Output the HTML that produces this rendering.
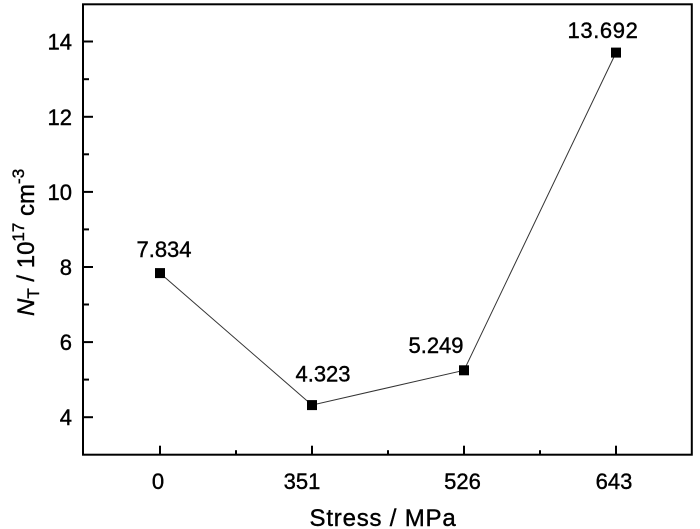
<!DOCTYPE html>
<html>
<head>
<meta charset="utf-8">
<style>
  html, body { margin: 0; padding: 0; background: #fff; }
  svg { display: block; }
  text { font-family: "Liberation Sans", Arial, sans-serif; fill: #000; stroke: #000; stroke-width: 0.4px; }
</style>
</head>
<body>
<svg width="700" height="529" viewBox="0 0 700 529" xmlns="http://www.w3.org/2000/svg">
  <rect x="0" y="0" width="700" height="529" fill="#fff"/>

  <!-- data line -->
  <polyline points="160,273.1 312,405.1 464,370.3 616,52.6" fill="none" stroke="#333" stroke-width="1"/>

  <!-- markers -->
  <rect x="155" y="268.1" width="10" height="10" fill="#000"/>
  <rect x="307" y="400.1" width="10" height="10" fill="#000"/>
  <rect x="459" y="365.3" width="10" height="10" fill="#000"/>
  <rect x="611" y="47.6" width="10" height="10" fill="#000"/>

  <!-- frame -->
  <rect x="83" y="4.3" width="608.8" height="450.4" fill="none" stroke="#000" stroke-width="2"/>

  <g stroke="#000" stroke-width="2">
    <!-- y ticks major -->
    <line x1="83" y1="417.2" x2="93" y2="417.2"/>
    <line x1="83" y1="342.1" x2="93" y2="342.1"/>
    <line x1="83" y1="267.0" x2="93" y2="267.0"/>
    <line x1="83" y1="191.9" x2="93" y2="191.9"/>
    <line x1="83" y1="116.8" x2="93" y2="116.8"/>
    <line x1="83" y1="41.5" x2="93" y2="41.5"/>
    <!-- y minor -->
    <line x1="83" y1="379.6" x2="89" y2="379.6"/>
    <line x1="83" y1="304.5" x2="89" y2="304.5"/>
    <line x1="83" y1="229.4" x2="89" y2="229.4"/>
    <line x1="83" y1="154.3" x2="89" y2="154.3"/>
    <line x1="83" y1="79.2" x2="89" y2="79.2"/>
    <!-- x ticks major -->
    <line x1="160" y1="454.7" x2="160" y2="445.7"/>
    <line x1="312" y1="454.7" x2="312" y2="445.7"/>
    <line x1="464" y1="454.7" x2="464" y2="445.7"/>
    <line x1="616" y1="454.7" x2="616" y2="445.7"/>
    <!-- x minor -->
    <line x1="236" y1="454.7" x2="236" y2="450.2"/>
    <line x1="388" y1="454.7" x2="388" y2="450.2"/>
    <line x1="540" y1="454.7" x2="540" y2="450.2"/>
  </g>

  <!-- y tick labels -->
  <g font-size="22" text-anchor="end">
    <text x="72" y="425.2">4</text>
    <text x="72" y="350.1">6</text>
    <text x="72" y="275.0">8</text>
    <text x="72" y="199.9">10</text>
    <text x="72" y="124.8">12</text>
    <text x="72" y="49.3">14</text>
  </g>

  <!-- x tick labels -->
  <g font-size="22" text-anchor="middle">
    <text x="158" y="489">0</text>
    <text x="302" y="489">351</text>
    <text x="462.5" y="489">526</text>
    <text x="614" y="489">643</text>
  </g>

  <!-- data labels -->
  <g font-size="22" text-anchor="middle">
    <text x="164" y="257">7.834</text>
    <text x="323" y="381.5">4.323</text>
    <text x="436" y="353">5.249</text>
    <text x="603" y="38" letter-spacing="0.6">13.692</text>
  </g>

  <!-- x axis title -->
  <text x="383" y="526" font-size="24" letter-spacing="0.8" text-anchor="middle">Stress / MPa</text>

  <!-- y axis title -->
  <text transform="translate(34,316) rotate(-90)" font-size="24"><tspan font-style="italic">N</tspan><tspan font-size="17" dy="5">T</tspan><tspan dy="-5"> / 10</tspan><tspan font-size="17" dy="-10">17</tspan><tspan dy="10"> cm</tspan><tspan font-size="17" dy="-10">-3</tspan></text>
</svg>
</body>
</html>
